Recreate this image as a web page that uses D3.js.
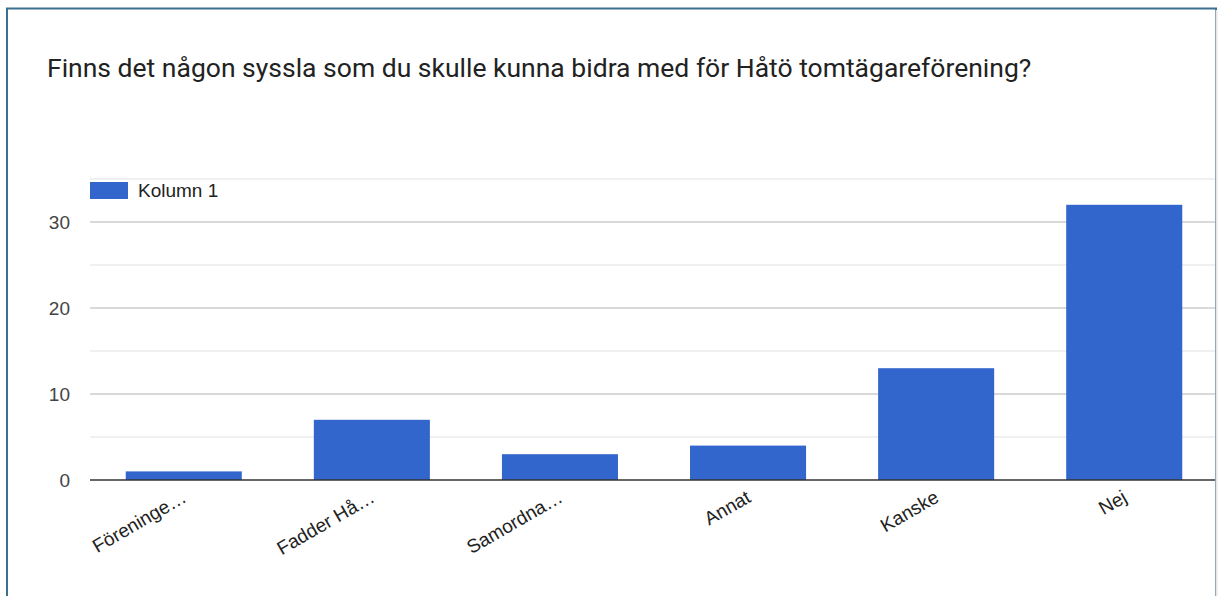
<!DOCTYPE html>
<html>
<head>
<meta charset="utf-8">
<script src="https://cdn.jsdelivr.net/npm/d3@7"></script>
<style>
  body { margin: 0; background: #fff; }
  svg { display: block; }
</style>
</head>
<body>
<div id="chart"></div>
<script>
var categories = ['Föreninge…', 'Fadder Hå…', 'Samordna…', 'Annat', 'Kanske', 'Nej'];
var values = [1, 7, 3, 4, 13, 32];
var yTicks = [0, 10, 20, 30];
var minorTicks = [5, 15, 25, 35];
var seriesName = 'Kolumn 1';
var title = 'Finns det någon syssla som du skulle kunna bidra med för Håtö tomtägareförening?';

var width = 1218, height = 596;
var color = '#3366cc';
var labelFont = 'Arial, "Liberation Sans", sans-serif';

var svg = d3.select('#chart')
    .append('svg')
    .attr('width', width)
    .attr('height', height);

// frame
svg.append('rect')
    .attr('x', 7)
    .attr('y', 8.5)
    .attr('width', 1209)
    .attr('height', 600)
    .style('fill', '#fff')
    .style('stroke', '#3a6f8f')
    .style('stroke-width', 2);
svg.append('line')
    .attr('x1', 1216.5).attr('x2', 1216.5)
    .attr('y1', 10).attr('y2', height)
    .style('stroke', '#e6e6e6')
    .style('stroke-width', 2);

svg.append('text')
    .attr('x', 47)
    .attr('y', 77)
    .style('font-family', 'Roboto, sans-serif')
    .style('font-size', '26.5px')
    .style('fill', '#222')
    .text(title);

var x = d3.scaleBand()
    .domain(categories)
    .range([90, 1218])
    .paddingInner(0.383)
    .paddingOuter(0.19);

var y = d3.scaleLinear()
    .domain([0, 35])
    .range([480, 179]);

// gridlines
svg.append('g')
    .selectAll('line')
    .data(minorTicks)
    .enter()
    .append('line')
    .attr('x1', 90).attr('x2', 1215)
    .attr('y1', function (d) { return y(d); })
    .attr('y2', function (d) { return y(d); })
    .style('stroke', '#ebebeb')
    .style('stroke-width', 1.5);

svg.append('g')
    .selectAll('line')
    .data(yTicks.slice(1))
    .enter()
    .append('line')
    .attr('x1', 90).attr('x2', 1215)
    .attr('y1', function (d) { return y(d); })
    .attr('y2', function (d) { return y(d); })
    .style('stroke', '#cccccc')
    .style('stroke-width', 1.5);

// y labels
svg.append('g')
    .selectAll('text')
    .data(yTicks)
    .enter()
    .append('text')
    .attr('x', 70)
    .attr('y', function (d) { return y(d); })
    .attr('dy', '0.36em')
    .attr('text-anchor', 'end')
    .style('font-family', labelFont)
    .style('font-size', '19px')
    .style('fill', '#444')
    .text(function (d) { return d; });

// bars
svg.append('g')
    .selectAll('rect')
    .data(values)
    .enter()
    .append('rect')
    .attr('x', function (d, i) { return x(categories[i]); })
    .attr('y', function (d) { return y(d); })
    .attr('width', x.bandwidth())
    .attr('height', function (d) { return y(0) - y(d); })
    .style('fill', color);

// baseline
svg.append('line')
    .attr('x1', 90).attr('x2', 1215)
    .attr('y1', y(0)).attr('y2', y(0))
    .style('stroke', '#333')
    .style('stroke-width', 1.5);

// x labels
svg.append('g')
    .selectAll('text')
    .data(categories)
    .enter()
    .append('text')
    .attr('text-anchor', 'end')
    .attr('transform', function (d) {
        var cx = x(d) + x.bandwidth() / 2 + 4;
        return 'translate(' + cx + ',' + 501 + ') rotate(-30)';
    })
    .style('font-family', labelFont)
    .style('font-size', '19px')
    .style('fill', '#222')
    .text(function (d) { return d; });

// legend
svg.append('rect')
    .attr('x', 90)
    .attr('y', 182)
    .attr('width', 38)
    .attr('height', 17)
    .style('fill', color);
svg.append('text')
    .attr('x', 138)
    .attr('y', 197)
    .style('font-family', labelFont)
    .style('font-size', '19px')
    .style('fill', '#222')
    .text(seriesName);
</script>
</body>
</html>
